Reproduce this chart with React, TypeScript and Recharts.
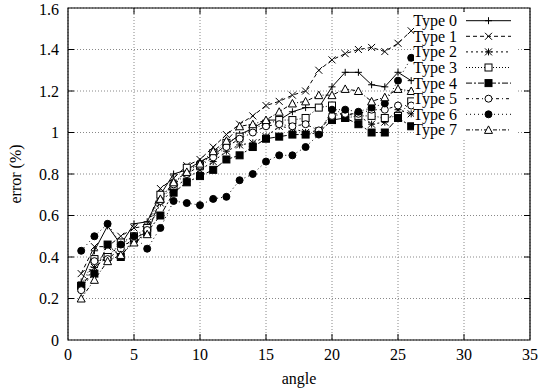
import { LineChart, Line, XAxis, YAxis, CartesianGrid, ReferenceArea } from "recharts"

const angles = [1, 2, 3, 4, 5, 6, 7, 8, 9, 10, 11, 12, 13, 14, 15, 16, 17, 18, 19, 20, 21, 22, 23, 24, 25, 26]
const type0 = [0.28, 0.43, 0.55, 0.46, 0.56, 0.57, 0.7, 0.8, 0.82, 0.86, 0.89, 0.94, 0.99, 1.02, 1.06, 1.06, 1.1, 1.12, 1.12, 1.22, 1.29, 1.29, 1.23, 1.22, 1.29, 1.25]
const type1 = [0.32, 0.45, 0.45, 0.5, 0.54, 0.55, 0.73, 0.78, 0.84, 0.87, 0.93, 0.99, 1.04, 1.08, 1.13, 1.15, 1.18, 1.2, 1.3, 1.35, 1.38, 1.4, 1.41, 1.39, 1.43, 1.49]
const type2 = [0.25, 0.35, 0.4, 0.46, 0.47, 0.52, 0.66, 0.73, 0.78, 0.82, 0.86, 0.91, 0.94, 0.95, 0.98, 1.03, 1.02, 1.0, 1.01, 1.09, 1.09, 1.08, 1.04, 1.05, 1.11, 1.09]
const type3 = [0.26, 0.39, 0.4, 0.47, 0.5, 0.54, 0.7, 0.74, 0.83, 0.84, 0.9, 0.95, 0.98, 1.02, 1.04, 1.06, 1.06, 1.07, 1.12, 1.13, 1.07, 1.08, 1.08, 1.07, 1.08, 1.15]
const type4 = [0.26, 0.32, 0.46, 0.4, 0.49, 0.52, 0.6, 0.71, 0.76, 0.79, 0.82, 0.87, 0.89, 0.93, 0.97, 0.98, 0.99, 0.99, 1.0, 1.06, 1.07, 1.04, 1.0, 1.0, 1.07, 1.03]
const type5 = [0.24, 0.38, 0.39, 0.44, 0.49, 0.53, 0.67, 0.75, 0.8, 0.84, 0.88, 0.93, 0.97, 1.0, 1.03, 1.04, 1.03, 1.04, 1.01, 1.08, 1.09, 1.09, 1.11, 1.11, 1.13, 1.13]
const type6 = [0.43, 0.5, 0.56, 0.46, 0.5, 0.44, 0.54, 0.67, 0.66, 0.65, 0.68, 0.69, 0.77, 0.8, 0.86, 0.89, 0.89, 0.93, 0.99, 1.11, 1.11, 1.1, 1.12, 1.14, 1.25, 1.36]
const type7 = [0.2, 0.29, 0.38, 0.41, 0.47, 0.51, 0.68, 0.76, 0.81, 0.85, 0.91, 0.96, 1.03, 1.04, 1.06, 1.1, 1.14, 1.15, 1.18, 1.18, 1.21, 1.2, 1.15, 1.17, 1.21, 1.2]

const xTicks = [0, 5, 10, 15, 20, 25, 30, 35]
const yTicks = [0, 0.2, 0.4, 0.6, 0.8, 1, 1.2, 1.4, 1.6]

const series = [
  { key: "t0", name: "Type 0", values: type0, dash: undefined, mark: "plus" },
  { key: "t1", name: "Type 1", values: type1, dash: "4 3", mark: "cross" },
  { key: "t2", name: "Type 2", values: type2, dash: "2 3", mark: "star" },
  { key: "t3", name: "Type 3", values: type3, dash: "1 2", mark: "square" },
  { key: "t4", name: "Type 4", values: type4, dash: "6 2 2 2", mark: "fsquare" },
  { key: "t5", name: "Type 5", values: type5, dash: "3 3 1 3", mark: "circle" },
  { key: "t6", name: "Type 6", values: type6, dash: "1 3", mark: "fcircle" },
  { key: "t7", name: "Type 7", values: type7, dash: "4 2 1 2", mark: "triangle" },
]

const data = angles.map((a, i) => {
  const row: Record<string, number> = { angle: a }
  series.forEach(s => { row[s.key] = s.values[i] })
  return row
})

const W = 540
const H = 388
const PLOT_TOP = 8
const PLOT_BOTTOM = 340
const PLOT_LEFT = 68
const PLOT_RIGHT = 530
const TICK = 6
const FONT = "Liberation Serif"

function marker(kind: string, cx: number, cy: number, key?: string) {
  const s = 3.5
  const p = { stroke: "#000", strokeWidth: 1, fill: "none" }
  switch (kind) {
    case "plus":
      return <path key={key} d={`M${cx - s},${cy}H${cx + s}M${cx},${cy - s}V${cy + s}`} {...p} />
    case "cross":
      return <path key={key} d={`M${cx - s},${cy - s}L${cx + s},${cy + s}M${cx - s},${cy + s}L${cx + s},${cy - s}`} {...p} />
    case "star":
      return <path key={key} d={`M${cx - s},${cy}H${cx + s}M${cx},${cy - s}V${cy + s}M${cx - s},${cy - s}L${cx + s},${cy + s}M${cx - s},${cy + s}L${cx + s},${cy - s}`} {...p} />
    case "square":
      return <rect key={key} x={cx - s} y={cy - s} width={2 * s} height={2 * s} {...p} fill="#fff" />
    case "fsquare":
      return <rect key={key} x={cx - s} y={cy - s} width={2 * s} height={2 * s} {...p} fill="#000" />
    case "circle":
      return <circle key={key} cx={cx} cy={cy} r={s} {...p} fill="#fff" />
    case "fcircle":
      return <circle key={key} cx={cx} cy={cy} r={s} {...p} fill="#000" />
    default:
      return <path key={key} d={`M${cx},${cy - s - 0.5}L${cx + s + 0.5},${cy + s}L${cx - s - 0.5},${cy + s}Z`} {...p} fill="#fff" />
  }
}

function XTick(props: any) {
  const { x, payload } = props
  const v = payload.value
  return (
    <g>
      {v !== 0 && v !== 35 && (
        <>
          <line x1={x} x2={x} y1={PLOT_BOTTOM} y2={PLOT_BOTTOM - TICK} stroke="#000" />
          <line x1={x} x2={x} y1={PLOT_TOP} y2={PLOT_TOP + TICK} stroke="#000" />
        </>
      )}
      <text x={x} y={PLOT_BOTTOM + 14} textAnchor="middle" dominantBaseline="central" fontSize={16} fontFamily={FONT} fill="#000">{v}</text>
    </g>
  )
}

function YTick(props: any) {
  const { y, payload } = props
  const v = payload.value
  return (
    <g>
      {v !== 0 && v !== 1.6 && (
        <>
          <line x1={PLOT_LEFT} x2={PLOT_LEFT + TICK} y1={y} y2={y} stroke="#000" />
          <line x1={PLOT_RIGHT} x2={PLOT_RIGHT - TICK} y1={y} y2={y} stroke="#000" />
        </>
      )}
      <text x={PLOT_LEFT - 9} y={y} textAnchor="end" dominantBaseline="central" fontSize={16} fontFamily={FONT} fill="#000">{String(v)}</text>
    </g>
  )
}

export default function App() {
  return (
    <div style={{ position: "absolute", left: 0, top: 0, width: W, height: H, background: "#fff" }}>
      <LineChart width={W} height={H} data={data} margin={{ top: PLOT_TOP, right: W - PLOT_RIGHT, bottom: 0, left: 0 }}>
        <CartesianGrid stroke="#888" strokeDasharray="1 2" />
        <XAxis
          dataKey="angle"
          type="number"
          domain={[0, 35]}
          ticks={xTicks}
          height={H - PLOT_BOTTOM}
          axisLine={false}
          tickLine={false}
          tick={<XTick />}
          label={{
            content: (p: any) => (
              <text x={p.viewBox.x + p.viewBox.width / 2} y={H - 10} textAnchor="middle" dominantBaseline="central" fontSize={16} fontFamily={FONT}>angle</text>
            ),
          }}
        />
        <YAxis
          type="number"
          domain={[0, 1.6]}
          ticks={yTicks}
          width={PLOT_LEFT}
          axisLine={false}
          tickLine={false}
          tick={<YTick />}
          label={{
            content: (p: any) => {
              const cy = p.viewBox.y + p.viewBox.height / 2
              return (
                <text x={15} y={cy} transform={`rotate(-90 15 ${cy})`} textAnchor="middle" dominantBaseline="central" fontSize={16} fontFamily={FONT}>error (%)</text>
              )
            },
          }}
        />
        <ReferenceArea x1={0} x2={35} y1={0} y2={1.6} fill="none" stroke="#000" strokeWidth={1.2} />
        {series.map(s => (
          <Line
            key={s.key}
            dataKey={s.key}
            name={s.name}
            type="linear"
            stroke="#000"
            strokeWidth={1}
            strokeDasharray={s.dash}
            isAnimationActive={false}
            activeDot={false}
            dot={(p: any) => marker(s.mark, p.cx, p.cy, `${s.key}-${p.index}`)}
          />
        ))}
      </LineChart>
      <svg width={W} height={H} style={{ position: "absolute", left: 0, top: 0, pointerEvents: "none" }}>
        <rect x={414} y={12} width={104} height={127} fill="#fff" />
        {series.map((s, i) => {
          const y = 20.7 + i * 15.6
          return (
            <g key={s.key}>
              <text x={457} y={y} textAnchor="end" dominantBaseline="central" fontSize={16} fontFamily={FONT}>{s.name}</text>
              <line x1={466} x2={511} y1={y} y2={y} stroke="#000" strokeDasharray={s.dash} />
              {marker(s.mark, 488.5, y)}
            </g>
          )
        })}
      </svg>
    </div>
  )
}
